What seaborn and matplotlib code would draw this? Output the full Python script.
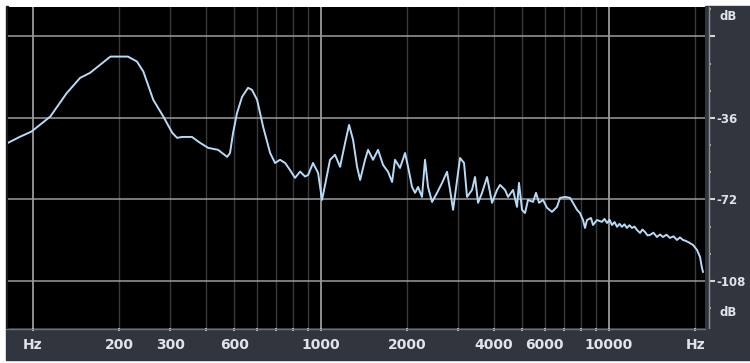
import matplotlib
matplotlib.use("Agg")
import matplotlib.pyplot as plt
from matplotlib.patches import Rectangle
from matplotlib.lines import Line2D
import seaborn as sns
import pandas as pd

# ---- data ----
freq_hz = [82, 90, 99, 115, 131, 146, 158, 171, 186, 214, 230, 242, 262, 284, 305, 317, 330, 357,
           381, 406, 440, 473, 484, 496, 512, 533, 559, 577, 601, 631, 667, 694, 722, 752, 782,
           814, 848, 882, 904, 940, 979, 1010, 1035, 1077, 1121, 1167, 1215, 1254, 1295, 1337,
           1370, 1425, 1460, 1519, 1581, 1646, 1713, 1769, 1811, 1885, 1962, 2010, 2075, 2126,
           2177, 2247, 2302, 2358, 2435, 2534, 2638, 2745, 2812, 2881, 2974, 3046, 3145, 3221,
           3352, 3434, 3518, 3632, 3780, 3934, 4095, 4194, 4365, 4471, 4653, 4804, 4881, 5000,
           5122, 5246, 5460, 5592, 5728, 5914, 6106, 6355, 6615, 6776, 7052, 7339, 7516, 7762,
           7949, 8143, 8274, 8408, 8680, 8820, 9107, 9478, 9670, 9865, 10070, 10270, 10480,
           10690, 10900, 11120, 11340, 11570, 11800, 12050, 12290, 12540, 12850, 13100, 13370,
           13640, 13910, 14300, 14710, 15070, 15430, 15870, 16320, 16790, 17270, 17680, 18110,
           18500, 18850, 19620, 20260, 20750, 21090, 21250]
level_db = [-47.0, -44.4, -42.0, -35.4, -25.1, -18.3, -16.1, -12.6, -8.9, -8.9, -11.1, -15.5,
            -28.0, -35.4, -42.6, -44.8, -44.4, -44.4, -47.0, -49.2, -50.1, -53.2, -51.5, -42.6,
            -33.8, -26.7, -22.7, -23.6, -28.0, -40.0, -51.5, -55.9, -54.5, -55.9, -59.0, -62.5,
            -59.7, -61.9, -61.2, -55.9, -60.3, -72.2, -65.6, -54.5, -52.3, -57.6, -47.0, -39.1,
            -45.7, -57.6, -63.4, -54.5, -50.1, -54.5, -50.1, -56.8, -59.8, -64.3, -54.5, -58.1,
            -51.5, -57.6, -66.5, -69.1, -66.5, -70.9, -54.5, -66.5, -73.1, -69.1, -64.7, -59.8,
            -67.8, -76.6, -63.4, -53.7, -55.9, -70.9, -67.8, -62.1, -73.5, -69.1, -62.1, -73.5,
            -67.8, -65.6, -67.8, -70.9, -67.8, -75.3, -64.7, -76.6, -78.0, -72.2, -73.1, -69.1,
            -73.5, -72.2, -75.7, -77.5, -75.3, -71.3, -70.9, -71.3, -73.5, -76.6, -78.0, -81.1,
            -84.6, -81.1, -80.2, -83.3, -81.1, -81.9, -80.6, -82.4, -81.0, -83.3, -82.0, -84.1,
            -82.8, -84.1, -83.0, -84.6, -83.4, -84.6, -84.0, -85.5, -86.8, -85.3, -86.4, -87.9,
            -87.7, -86.7, -88.6, -87.5, -88.6, -87.6, -89.0, -88.3, -89.9, -88.8, -89.9, -90.3,
            -90.8, -92.1, -94.3, -97.4, -102.3, -104.0]

x_tick_pos = [100, 200, 300, 500, 1000, 2000, 4000, 6000, 10000, 20000]
x_tick_labels = ["Hz", "200", "300", "600", "1000", "2000", "4000", "6000", "10000", "Hz"]
y_tick_pos = [0, -36, -72, -108]
y_tick_labels = ["", "-36", "-72", "-108"]

df = pd.DataFrame({"freq": freq_hz, "db": level_db})

W, H = 750, 363
fig = plt.figure(figsize=(W / 100, H / 100), dpi=100, facecolor="white")

def fx(px):
    return px / W

def fy(py):
    return 1 - py / H

strip = "#30353e"
fig.add_artist(Rectangle((fx(6), fy(360)), fx(705 - 6), (360 - 328) / H,
                         transform=fig.transFigure, color=strip, zorder=0))
fig.add_artist(Rectangle((fx(705), fy(360)), fx(45), (360 - 6) / H,
                         transform=fig.transFigure, color=strip, zorder=0))
fig.add_artist(Line2D([fx(6), fx(705)], [fy(329), fy(329)], transform=fig.transFigure,
                      color="#6b717b", lw=1.0, zorder=1))
fig.add_artist(Rectangle((fx(6), fy(328)), fx(2), (328 - 6) / H,
                         transform=fig.transFigure, color="#1a1a1a", zorder=0))

ax = fig.add_axes([fx(8), fy(328), fx(705 - 8), (328 - 7) / H])
ax.set_facecolor("black")
ax.set_xscale("log")
ax.set_xlim(82, 21600)
ax.set_ylim(-128.8, 13.0)

# grid
for f in [200, 300, 400, 500, 600, 700, 800, 900, 2000, 3000, 4000, 5000, 6000, 7000, 8000,
          9000, 20000]:
    ax.axvline(f, color="#3a3a3a", lw=1.0, zorder=1)
for f in [100, 1000, 10000]:
    ax.axvline(f, color="#b5b5b5", lw=1.1, zorder=2)
for d in y_tick_pos:
    ax.axhline(d, color="#9c9c9c", lw=1.1, zorder=2)

sns.lineplot(data=df, x="freq", y="db", ax=ax, color="#b6dbf7", lw=1.4, zorder=5,
             legend=False, estimator=None, sort=False)

ax.set_xlabel("")
ax.set_ylabel("")
for s in ["top", "left", "bottom"]:
    ax.spines[s].set_visible(False)
ax.spines["right"].set_color("#8d939c")
ax.spines["right"].set_position(("outward", 3))
ax.spines["right"].set_linewidth(1.0)

x_font = dict(family="DejaVu Sans", weight="bold", size=10)
y_font = dict(family="DejaVu Sans", weight="bold", size=8.5)
ax.set_xticks(x_tick_pos)
ax.set_xticklabels(x_tick_labels, color="#dfe3ea", **x_font)
ax.set_xticks([400, 600, 700, 800, 900, 3000, 5000, 7000, 8000, 9000], minor=True)
ax.xaxis.set_minor_formatter(matplotlib.ticker.NullFormatter())
ax.tick_params(axis="x", which="both", direction="out", length=2.5, width=1.3,
               color="#d8d8d8", pad=5)

ax.yaxis.tick_right()
ax.set_yticks(y_tick_pos)
ax.set_yticklabels(y_tick_labels, color="#dfe3ea", **y_font)
ax.set_yticks([12, -12, -24, -48, -60, -84, -96, -120], minor=True)
ax.yaxis.set_minor_formatter(matplotlib.ticker.NullFormatter())
ax.tick_params(axis="y", which="major", direction="out", length=4, width=1.5,
               color="#d8d8d8", pad=1.5)
ax.tick_params(axis="y", which="minor", direction="out", length=1.5, width=1.3,
               color="#b8b8b8")

fig.text(fx(728), fy(17), "dB", ha="center", va="center", color="#dfe3ea", **y_font)
fig.text(fx(728), fy(313), "dB", ha="center", va="center", color="#dfe3ea", **y_font)

fig.savefig("out.png", dpi=100, facecolor="white")
